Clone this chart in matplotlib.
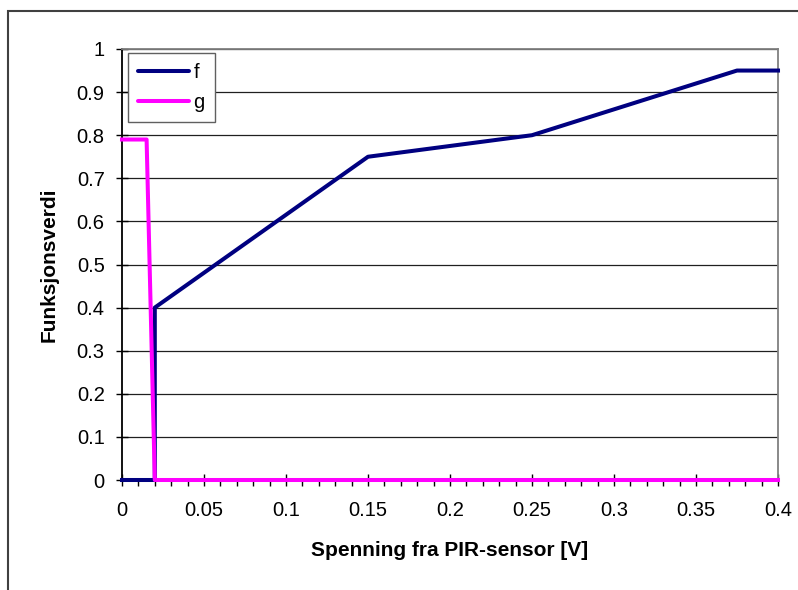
import matplotlib.pyplot as plt
from matplotlib.patches import Rectangle
from matplotlib.ticker import MultipleLocator

plt.rcParams['font.family'] = ['Liberation Sans', 'DejaVu Sans']

f_x = [0, 0.02, 0.02, 0.15, 0.25, 0.375, 0.4]
f_y = [0, 0, 0.4, 0.75, 0.8, 0.95, 0.95]
g_x = [0, 0.015, 0.02, 0.4]
g_y = [0.79, 0.79, 0, 0]

x_ticks = [0, 0.05, 0.1, 0.15, 0.2, 0.25, 0.3, 0.35, 0.4]
x_labels = ['0', '0.05', '0.1', '0.15', '0.2', '0.25', '0.3', '0.35', '0.4']
y_ticks = [i / 10 for i in range(11)]
y_labels = ['0', '0.1', '0.2', '0.3', '0.4', '0.5', '0.6', '0.7', '0.8', '0.9', '1']

fig = plt.figure(figsize=(7.98, 5.90), dpi=100)
ax = fig.add_axes([122/798, 1-480/590, 656/798, 431/590])

# outer chart border (only left/top visible in the crop)
fig.patches.append(Rectangle((8/798, -0.5), 2, 1.5 - 11/590, transform=fig.transFigure,
                             fill=False, edgecolor='#404040', linewidth=1.5))

ax.plot(f_x, f_y, color='#000080', linewidth=2.9, label='f', clip_on=False, zorder=3)
ax.plot(g_x, g_y, color='#FF00FF', linewidth=2.9, label='g', clip_on=False, zorder=3)

ax.set_xlim(0, 0.4)
ax.set_ylim(0, 1)
ax.xaxis.set_minor_locator(MultipleLocator(0.01))
ax.set_xticks(x_ticks)
ax.set_xticklabels(x_labels)
ax.set_yticks(y_ticks)
ax.set_yticklabels(y_labels)

ax.tick_params(axis='both', which='major', direction='inout', length=8, width=1,
               labelsize=14.5, color='black')
ax.tick_params(axis='x', which='minor', direction='out', length=4, width=1)
ax.tick_params(axis='x', which='major', pad=11)
ax.tick_params(axis='y', which='major', pad=8.5)

ax.grid(True, axis='y', color='#202020', linewidth=0.9, zorder=0)
ax.set_axisbelow(True)

ax.spines['left'].set_color('black')
ax.spines['bottom'].set_color('black')
ax.spines['top'].set_color('#808080')
ax.spines['right'].set_color('#808080')
for s in ax.spines.values():
    s.set_linewidth(1.3)

ax.set_xlabel('Spenning fra PIR-sensor [V]', fontsize=15, fontweight='bold', labelpad=15)
ax.set_ylabel('Funksjonsverdi', fontsize=15, fontweight='bold', labelpad=13)

leg = ax.legend(loc='upper left', bbox_to_anchor=(0.009, 0.991), fontsize=14.5,
                fancybox=False, framealpha=1, edgecolor='#606060',
                handlelength=2.55, handletextpad=0.2, labelspacing=0.55,
                borderpad=0.5, borderaxespad=0)
leg.get_frame().set_linewidth(1)
for h in leg.get_lines():
    h.set_solid_capstyle('round')

plt.savefig('out.png', dpi=100)
